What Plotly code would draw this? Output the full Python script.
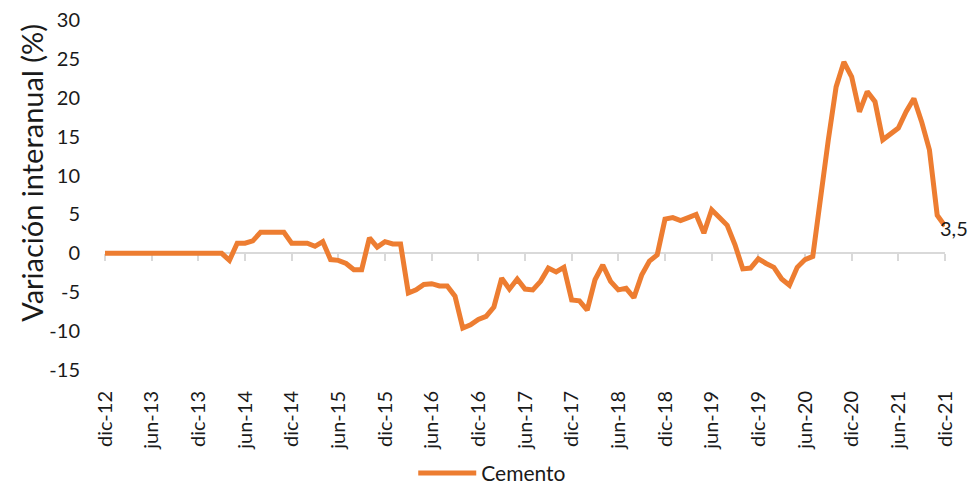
import plotly.graph_objects as go

# ---- data ----
month_names = ["ene", "feb", "mar", "abr", "may", "jun", "jul", "ago", "sep", "oct", "nov", "dic"]
years = list(range(12, 22))  # 2012..2021

categories = ["dic-12"] + [f"{m}-{y}" for y in years[1:] for m in month_names]

cemento = [
    0, 0, 0, 0, 0, 0, 0, 0, 0, 0, 0, 0, 0, 0, 0, 0,
    -0.9, 1.3, 1.3, 1.6, 2.7, 2.7, 2.7, 2.7, 1.3, 1.3, 1.3, 0.9, 1.5,
    -0.8, -0.9, -1.3, -2.1, -2.1, 2.0, 0.8, 1.5, 1.2, 1.2,
    -5.1, -4.7, -4.0, -3.9, -4.2, -4.2, -5.5, -9.6, -9.2, -8.5, -8.1, -6.9,
    -3.2, -4.6, -3.3, -4.6, -4.7, -3.6, -1.9, -2.4, -1.8, -6.0, -6.1, -7.3,
    -3.4, -1.5, -3.6, -4.7, -4.5, -5.7, -2.8, -1.0, -0.2,
    4.4, 4.6, 4.2, 4.6, 5.0, 2.6, 5.6, 4.6, 3.6, 1.1,
    -2.0, -1.9, -0.7, -1.3, -1.8, -3.3, -4.1, -1.8, -0.8, -0.4,
    7.7, 14.6, 21.4, 24.6, 22.7, 18.2, 20.8, 19.5, 14.6, 15.4, 16.1, 18.2,
    19.9, 16.9, 13.3, 4.9, 3.5,
]

tick_labels = ["dic-12", "jun-13", "dic-13", "jun-14", "dic-14", "jun-15", "dic-15",
               "jun-16", "dic-16", "jun-17", "dic-17", "jun-18", "dic-18", "jun-19",
               "dic-19", "jun-20", "dic-20", "jun-21", "dic-21"]

y_ticks = [-15, -10, -5, 0, 5, 10, 15, 20, 25, 30]

y_title = "Variación interanual (%)"

ORANGE = "#ED7D31"
FONT = "Lato"
TXT = "#1a1a1a"

fig = go.Figure()
fig.add_trace(go.Scatter(
    x=categories, y=cemento, mode="lines", name="Cemento",
    line=dict(color=ORANGE, width=5), showlegend=True,
))
# invisible helper trace on x2 (axis that carries the tick marks on the zero line)
fig.add_trace(go.Scatter(
    x=categories, y=cemento, mode="lines", xaxis="x2", showlegend=False,
    line=dict(color="rgba(0,0,0,0)", width=0), hoverinfo="skip",
))

last_label = f"{cemento[-1]:.1f}".replace(".", ",")
fig.add_annotation(
    x=categories[-1], y=cemento[-1], text=last_label, showarrow=False,
    xanchor="left", yanchor="middle", xshift=-7, yshift=-2,
    font=dict(family=FONT, size=20, color=TXT),
)

# y-axis title (placed as rotated text, as in the reference it sits slightly above centre)
fig.add_annotation(
    xref="paper", yref="paper", x=-0.087, y=0.563, text=y_title,
    textangle=-90, showarrow=False, xanchor="center", yanchor="middle",
    font=dict(family=FONT, size=29, color=TXT),
)

fig.update_layout(
    width=971, height=485,
    margin=dict(l=105, r=26, t=20, b=115, autoexpand=False),
    paper_bgcolor="white", plot_bgcolor="white",
    font=dict(family=FONT, color=TXT),
    xaxis=dict(
        type="category", categoryorder="array", categoryarray=categories,
        range=[0, len(categories) - 1],
        tickmode="array", tickvals=tick_labels, ticktext=tick_labels,
        tickangle=-90, tickfont=dict(family=FONT, size=20, color=TXT),
        showline=False, showgrid=False, zeroline=False,
        ticks="outside", ticklen=12, tickcolor="rgba(0,0,0,0)",
        automargin=False,
    ),
    xaxis2=dict(
        type="category", categoryorder="array", categoryarray=categories,
        overlaying="x", matches="x", anchor="free",
        position=(0 - y_ticks[0]) / (y_ticks[-1] - y_ticks[0]),
        tickmode="array", tickvals=tick_labels,
        showticklabels=False, showgrid=False, zeroline=False,
        showline=False,
        ticks="outside", ticklen=7, tickcolor="#D9D9D9", tickwidth=2,
        layer="below traces",
    ),
    yaxis=dict(
        range=[y_ticks[0], y_ticks[-1]],
        tickmode="array", tickvals=y_ticks, ticktext=[str(v) for v in y_ticks],
        tickfont=dict(family=FONT, size=20, color=TXT),
        showgrid=False, showline=False,
        zeroline=True, zerolinecolor="#D9D9D9", zerolinewidth=2,
        ticks="outside", ticklen=20, tickcolor="rgba(0,0,0,0)",
        automargin=False,
    ),
    legend=dict(
        orientation="h", x=0.461, xanchor="center", y=-0.295, yanchor="middle",
        font=dict(family=FONT, size=21, color=TXT), itemwidth=58,
        bgcolor="rgba(0,0,0,0)",
    ),
)

fig.write_html("out.html", config={"displayModeBar": False},
               post_script="document.body.style.margin='0px';")
